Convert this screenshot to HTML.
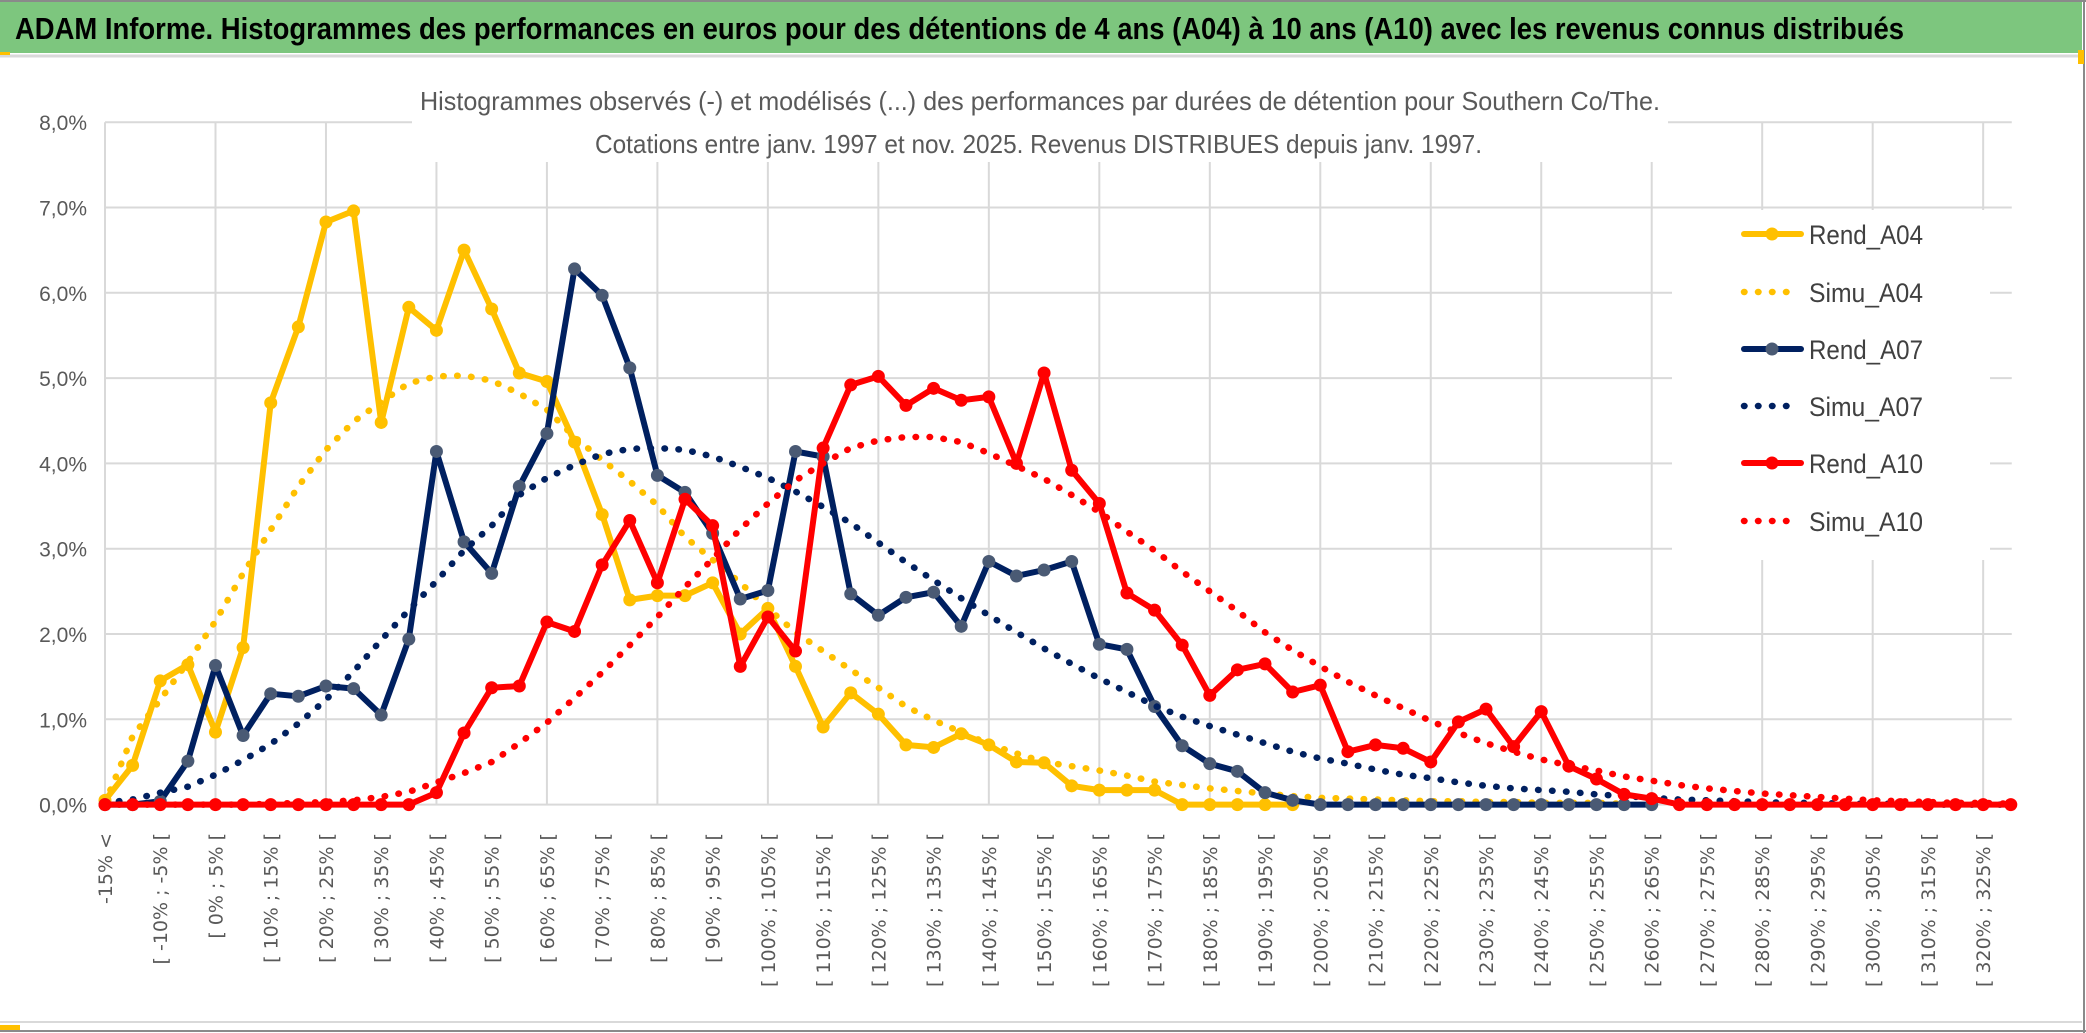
<!DOCTYPE html>
<html><head><meta charset="utf-8">
<style>
html,body{margin:0;padding:0;background:#fff;}
svg{display:block;}
</style></head>
<body>
<svg id="chart" width="2086" height="1033" viewBox="0 0 2086 1033" xmlns="http://www.w3.org/2000/svg">
  <rect x="0" y="0" width="2086" height="1033" fill="#fff"/>
  <rect x="0" y="2" width="2082" height="51" fill="#7DC67E"/>
  <line x1="0" y1="1" x2="2086" y2="1" stroke="#8a8a8a" stroke-width="2"/>
  <line x1="0" y1="56" x2="2082" y2="56" stroke="#d9d9d9" stroke-width="3"/>
  <line x1="2084" y1="0" x2="2084" y2="1033" stroke="#8a8a8a" stroke-width="2"/>
  <line x1="0" y1="1022" x2="2082" y2="1022" stroke="#d9d9d9" stroke-width="2"/>
  <line x1="0" y1="1031" x2="2086" y2="1031" stroke="#8a8a8a" stroke-width="2"/>
  <rect x="0" y="1025" width="20" height="5" fill="#FFC000"/>
  <rect x="0" y="52" width="10" height="3" fill="#FFC000"/>
  <rect x="2078" y="50" width="6" height="14" fill="#FFC000"/>
  <text x="15" y="39" font-family="Liberation Sans, sans-serif" font-size="31" font-weight="bold" fill="#000" textLength="1889" lengthAdjust="spacingAndGlyphs">ADAM Informe. Histogrammes des performances en euros pour des détentions de 4 ans (A04) à 10 ans (A10) avec les revenus connus distribués</text>
  <g id="grid"></g>
  <rect x="412" y="70" width="1256" height="92" fill="#fff"/>
  <text x="420" y="110" font-family="Liberation Sans, sans-serif" font-size="26" fill="#595959" textLength="1240" lengthAdjust="spacingAndGlyphs">Histogrammes observés (-) et modélisés (...) des performances par durées de détention pour Southern Co/The.</text>
  <text x="595" y="153" font-family="Liberation Sans, sans-serif" font-size="26" fill="#595959" textLength="887" lengthAdjust="spacingAndGlyphs">Cotations entre janv. 1997 et nov. 2025. Revenus DISTRIBUES depuis janv. 1997.</text>
  <g id="yaxis"></g>
  <g id="xaxis"></g>
  <g id="series"></g>
  <g id="legend"></g>
</svg>
<script>
const categories = ["-15% <","[ -15% ; -10% [","[ -10% ; -5% [","[ -5% ; 0% [","[ 0% ; 5% [","[ 5% ; 10% [","[ 10% ; 15% [","[ 15% ; 20% [","[ 20% ; 25% [","[ 25% ; 30% [","[ 30% ; 35% [","[ 35% ; 40% [","[ 40% ; 45% [","[ 45% ; 50% [","[ 50% ; 55% [","[ 55% ; 60% [","[ 60% ; 65% [","[ 65% ; 70% [","[ 70% ; 75% [","[ 75% ; 80% [","[ 80% ; 85% [","[ 85% ; 90% [","[ 90% ; 95% [","[ 95% ; 100% [","[ 100% ; 105% [","[ 105% ; 110% [","[ 110% ; 115% [","[ 115% ; 120% [","[ 120% ; 125% [","[ 125% ; 130% [","[ 130% ; 135% [","[ 135% ; 140% [","[ 140% ; 145% [","[ 145% ; 150% [","[ 150% ; 155% [","[ 155% ; 160% [","[ 160% ; 165% [","[ 165% ; 170% [","[ 170% ; 175% [","[ 175% ; 180% [","[ 180% ; 185% [","[ 185% ; 190% [","[ 190% ; 195% [","[ 195% ; 200% [","[ 200% ; 205% [","[ 205% ; 210% [","[ 210% ; 215% [","[ 215% ; 220% [","[ 220% ; 225% [","[ 225% ; 230% [","[ 230% ; 235% [","[ 235% ; 240% [","[ 240% ; 245% [","[ 245% ; 250% [","[ 250% ; 255% [","[ 255% ; 260% [","[ 260% ; 265% [","[ 265% ; 270% [","[ 270% ; 275% [","[ 275% ; 280% [","[ 280% ; 285% [","[ 285% ; 290% [","[ 290% ; 295% [","[ 295% ; 300% [","[ 300% ; 305% [","[ 305% ; 310% [","[ 310% ; 315% [","[ 315% ; 320% [","[ 320% ; 325% [","[ 325% ; 330% ["];
const yTicks = [0,1,2,3,4,5,6,7,8];
const yTickLabels = ["0,0%","1,0%","2,0%","3,0%","4,0%","5,0%","6,0%","7,0%","8,0%"];
const rendA04 = [0.05,0.46,1.45,1.64,0.85,1.84,4.71,5.6,6.83,6.96,4.48,5.83,5.56,6.5,5.81,5.06,4.96,4.25,3.4,2.4,2.45,2.45,2.6,2.0,2.3,1.62,0.91,1.31,1.06,0.7,0.67,0.83,0.7,0.5,0.49,0.22,0.17,0.17,0.17,0,0,0,0,0];
const simuA04 = [0.02,0.8,1.23,1.67,2.15,2.71,3.22,3.73,4.16,4.49,4.72,4.94,5.02,5.03,4.97,4.82,4.63,4.31,4.04,3.79,3.51,3.14,2.87,2.6,2.3,2.02,1.8,1.58,1.37,1.15,0.99,0.85,0.71,0.6,0.5,0.45,0.4,0.34,0.27,0.23,0.19,0.16,0.13,0.1,0.08,0.07,0.06,0.05,0.04,0.04,0.03,0.03,0.02,0.02,0.02,0.01];
const rendA07 = [0,0,0.04,0.51,1.63,0.81,1.3,1.27,1.39,1.36,1.05,1.94,4.14,3.08,2.71,3.73,4.35,6.28,5.97,5.12,3.86,3.66,3.18,2.41,2.51,4.14,4.08,2.47,2.22,2.43,2.49,2.09,2.85,2.68,2.75,2.85,1.88,1.82,1.15,0.69,0.48,0.39,0.14,0.05,0,0,0,0,0,0,0,0,0,0,0,0,0];
const simuA07 = [0.02,0.06,0.14,0.21,0.35,0.52,0.71,0.95,1.23,1.56,1.93,2.28,2.62,2.98,3.27,3.63,3.83,3.98,4.11,4.17,4.18,4.16,4.08,3.96,3.83,3.67,3.49,3.3,3.07,2.84,2.63,2.42,2.22,2.02,1.83,1.65,1.48,1.32,1.16,1.03,0.92,0.82,0.72,0.62,0.54,0.48,0.41,0.35,0.31,0.26,0.22,0.19,0.17,0.15,0.12,0.1,0.08,0.06,0.05,0.04,0.03,0.02,0.02,0.01,0.01,0.01,0,0,0,0];
const rendA10 = [0,0,0,0,0,0,0,0,0,0,0,0,0.14,0.84,1.37,1.39,2.14,2.03,2.81,3.33,2.6,3.58,3.27,1.62,2.2,1.8,4.18,4.92,5.02,4.68,4.88,4.74,4.78,4.0,5.06,3.92,3.53,2.48,2.28,1.87,1.28,1.58,1.65,1.32,1.4,0.62,0.7,0.66,0.5,0.97,1.12,0.68,1.09,0.45,0.3,0.12,0.07,0,0,0,0,0,0,0,0,0,0,0,0,0];
const simuA10 = [0,0,0,0,0,0,0.01,0.02,0.03,0.05,0.09,0.15,0.26,0.37,0.5,0.72,0.96,1.25,1.55,1.87,2.2,2.55,2.88,3.23,3.53,3.8,4.0,4.18,4.27,4.31,4.31,4.25,4.12,3.97,3.82,3.63,3.43,3.2,2.98,2.73,2.5,2.27,2.02,1.81,1.62,1.44,1.28,1.13,0.98,0.84,0.72,0.62,0.53,0.46,0.4,0.33,0.28,0.23,0.19,0.16,0.13,0.11,0.09,0.07,0.05,0.04,0.03,0.02,0.02,0.01];
const seriesNames = ["Rend_A04","Simu_A04","Rend_A07","Simu_A07","Rend_A10","Simu_A10"];

const NS = "http://www.w3.org/2000/svg";
const X0 = 105, STEP = 27.62, Y0 = 804.6, YU = 85.3;
function xPos(i){ return X0 + i*STEP; }
function yPos(v){ return Y0 - v*YU; }
function mk(tag, attrs, parent){ const e=document.createElementNS(NS,tag); for(const k in attrs) e.setAttribute(k,attrs[k]); parent.appendChild(e); return e; }

// gridlines
const grid = document.getElementById('grid');
const xRight = xPos(categories.length-1)+1;
yTicks.forEach(function(t){
  const l = mk('line',{x1:X0,x2:xRight,y1:yPos(t),y2:yPos(t),stroke:'#d9d9d9','stroke-width':2},grid);
  
  
});
for(let i=0;i<categories.length;i+=4){
  const l = mk('line',{x1:xPos(i),x2:xPos(i),y1:yPos(8),y2:Y0,stroke:'#d9d9d9','stroke-width':2},grid);
  
  
}
// y axis labels
const yax = document.getElementById('yaxis');
yTicks.forEach(function(t,k){
  const tx = mk('text',{x:87,y:yPos(t)+8,'text-anchor':'end','font-family':'Liberation Sans, sans-serif','font-size':21,fill:'#595959'},yax);
  tx.textContent = yTickLabels[k];
  
  
});
// x axis labels
const xax = document.getElementById('xaxis');
categories.forEach(function(c,i){
  if(i%2!==0) return;
  const x = xPos(i)+7;
  const tx = mk('text',{x:x,y:833,transform:'rotate(-90 '+x+' 833)','text-anchor':'end','font-family':'DejaVu Sans, sans-serif','font-size':19,fill:'#595959'},xax);
  tx.textContent = c;
  
  
});
// series
const sg = document.getElementById('series');
function ptsOf(arr){ return arr.map(function(v,i){ return xPos(i).toFixed(1)+','+yPos(v).toFixed(1); }).join(' '); }
function drawRend(arr,color,mcolor,name){
  const g = mk('g',{},sg);
  
  
  const pl = mk('polyline',{points:ptsOf(arr),fill:'none',stroke:color,'stroke-width':6,'stroke-linejoin':'round','stroke-linecap':'round'},g);
  
  
  arr.forEach(function(v,i){
    const c = mk('circle',{cx:xPos(i),cy:yPos(v),r:6.5,fill:mcolor},g);
    
    
  });
}
function drawSimu(arr,color,name){
  const pl = mk('polyline',{points:ptsOf(arr),fill:'none',stroke:color,'stroke-width':6.5,'stroke-dasharray':'0.5 13.5','stroke-linecap':'round'},sg);
  
  
}
drawRend(rendA04,'#FFC000','#FFC000',seriesNames[0]);
drawSimu(simuA04,'#FFC000',seriesNames[1]);
drawRend(rendA07,'#002060','#4A5A74',seriesNames[2]);
drawSimu(simuA07,'#002060',seriesNames[3]);
drawRend(rendA10,'#FF0000','#FF0000',seriesNames[4]);
drawSimu(simuA10,'#FF0000',seriesNames[5]);
// legend
const lg = document.getElementById('legend');
const lbg = mk('rect',{x:1672,y:210,width:318,height:350,fill:'#fff'},lg);


const legColors = ['#FFC000','#FFC000','#002060','#002060','#FF0000','#FF0000'];
const legMarker = ['#FFC000',null,'#4A5A74',null,'#FF0000',null];
const legY = [234,292,349,406,463,521];
seriesNames.forEach(function(n,k){
  const y = legY[k];
  const e = mk('g',{},lg);
  
  
  if(legMarker[k]){
    mk('line',{x1:1744,x2:1801,y1:y,y2:y,stroke:legColors[k],'stroke-width':6,'stroke-linecap':'round'},e);
    mk('circle',{cx:1772,cy:y,r:6.5,fill:legMarker[k]},e);
  } else {
    mk('line',{x1:1744,x2:1796,y1:y,y2:y,stroke:legColors[k],'stroke-width':6.5,'stroke-dasharray':'0.5 13.5','stroke-linecap':'round'},e);
  }
  const t = mk('text',{x:1809,y:y+10,'font-family':'Liberation Sans, sans-serif','font-size':27,fill:'#404040',textLength:114,lengthAdjust:'spacingAndGlyphs'},e);
  t.textContent = n;
});
</script>
</body></html>
